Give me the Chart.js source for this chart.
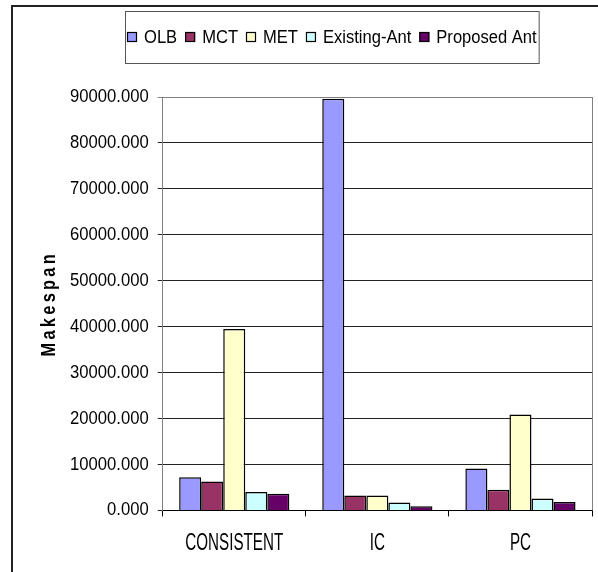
<!DOCTYPE html>
<html>
<head>
<meta charset="utf-8">
<script src="https://cdn.jsdelivr.net/npm/chart.js@4.4.1/dist/chart.umd.min.js"></script>
<style>
  html, body { margin: 0; padding: 0; background: #fff; }
  #wrap { width: 598px; height: 572px; position: relative; }
</style>
</head>
<body>
<div id="wrap"><canvas id="c" width="598" height="572"></canvas></div>
<script>
const categories = ['CONSISTENT', 'IC', 'PC'];
const seriesNames = ['OLB', 'MCT', 'MET', 'Existing-Ant', 'Proposed Ant'];
const olb = [7240, 89600, 9130];
const mct = [6300, 3260, 4490];
const met = [39500, 3260, 20870];
const existingAnt = [3980, 1740, 2610];
const proposedAnt = [3630, 930, 1810];
const yTicks = [0, 10000, 20000, 30000, 40000, 50000, 60000, 70000, 80000, 90000];
const yTitle = 'Makespan';

const colors = ['#9999FF', '#993366', '#FFFFCC', '#CCFFFF', '#660066'];
const seriesValues = [olb, mct, met, existingAnt, proposedAnt];

// Horizontally condensed faces: "SqueezeNN" tag = Liberation Sans drawn at NN% width
const squeezed = pct => 'Squeeze' + pct + ", 'Liberation Sans', Arial, sans-serif";

const canvas = document.getElementById('c');
const c2d = canvas.getContext('2d');
const origFill = c2d.fillText.bind(c2d);
const origMeasure = c2d.measureText.bind(c2d);
function ratioOf(font) {
  const m = /Squeeze(\d+)/.exec(String(font));
  return m ? parseInt(m[1], 10) / 100 : 1;
}
c2d.fillText = function(t, x, y, maxW) {
  const r = ratioOf(this.font);
  if (r !== 1) {
    const w = origMeasure(t).width * r;
    return origFill(t, x, y, maxW !== undefined ? Math.min(maxW, w) : w);
  }
  return maxW !== undefined ? origFill(t, x, y, maxW) : origFill(t, x, y);
};
c2d.measureText = function(t) {
  const m = origMeasure(t);
  const r = ratioOf(this.font);
  if (r !== 1) {
    return {
      width: m.width * r,
      actualBoundingBoxAscent: m.actualBoundingBoxAscent,
      actualBoundingBoxDescent: m.actualBoundingBoxDescent,
      actualBoundingBoxLeft: m.actualBoundingBoxLeft * r,
      actualBoundingBoxRight: m.actualBoundingBoxRight * r
    };
  }
  return m;
};

// Outer frame, plot-area border and custom boxed legend
const framePlugin = {
  id: 'frame',
  beforeDraw(chart) {
    const ctx = chart.ctx;
    ctx.save();
    ctx.strokeStyle = '#222';
    ctx.lineWidth = 2;
    ctx.strokeRect(12, 6, chart.width + 10, chart.height + 10);
    ctx.restore();
  },
  afterDraw(chart) {
    const ctx = chart.ctx;
    const a = chart.chartArea;
    ctx.save();
    ctx.strokeStyle = '#808080';
    ctx.lineWidth = 1;
    ctx.beginPath();
    ctx.moveTo(Math.round(a.right) + 0.5, a.top);
    ctx.lineTo(Math.round(a.right) + 0.5, a.bottom);
    ctx.stroke();

    // legend
    ctx.font = '18px ' + squeezed(92);
    ctx.textBaseline = 'middle';
    ctx.textAlign = 'left';
    const boxW = 10, gap1 = 7, gap2 = 8;
    const items = chart.data.datasets.map(d => ({label: d.label, color: d.backgroundColor, w: ctx.measureText(d.label).width}));
    let total = 0;
    items.forEach((it, i) => { total += boxW + gap1 + it.w + (i < items.length - 1 ? gap2 : 0); });
    const legLeft = 125, legTop = 11, legBottom = 63;
    const startX = legLeft + 2;
    const legRight = startX + total + 2;
    const cy = (legTop + legBottom) / 2;
    ctx.strokeStyle = '#555';
    ctx.lineWidth = 1;
    ctx.strokeRect(legLeft + 0.5, legTop + 0.5, legRight - legLeft, legBottom - legTop);
    let x = startX;
    items.forEach(it => {
      ctx.fillStyle = it.color;
      ctx.fillRect(x, cy - 5, boxW, boxW);
      ctx.strokeStyle = '#000';
      ctx.lineWidth = 1.2;
      ctx.strokeRect(x + 0.5, cy - 4.5, boxW - 1, boxW - 1);
      x += boxW + gap1;
      ctx.fillStyle = '#000';
      ctx.fillText(it.label, x, cy + 1);
      x += it.w + gap2;
    });
    ctx.restore();
  }
};

// letter-spaced axis title
const spacingPlugin = {
  id: 'spacing',
  afterLayout(chart) {
    const s = chart.scales.y;
    if (s._spacedWrapped) return;
    const orig = s.drawTitle.bind(s);
    s.drawTitle = function() {
      const ctx = this.ctx;
      ctx.save();
      ctx.letterSpacing = '4px';
      orig();
      ctx.restore();
    };
    s._spacedWrapped = true;
  }
};

new Chart(canvas, {
  type: 'bar',
  data: {
    labels: categories,
    datasets: seriesNames.map((n, i) => ({
      label: n,
      data: seriesValues[i],
      backgroundColor: colors[i],
      borderColor: '#000',
      borderWidth: 1.5,
      categoryPercentage: 0.77,
      barPercentage: 1.0
    }))
  },
  options: {
    responsive: false,
    animation: false,
    devicePixelRatio: 1,
    layout: { padding: { top: 97, left: 33, right: 6, bottom: 2 } },
    plugins: {
      legend: { display: false },
      tooltip: { enabled: false }
    },
    scales: {
      x: {
        grid: { drawOnChartArea: false, color: '#000', tickLength: 6, offset: true },
        border: { color: '#000', width: 1 },
        ticks: { color: '#000', font: { family: squeezed(66), size: 23 }, padding: 13 }
      },
      y: {
        min: 0,
        max: 90000,
        afterBuildTicks(scale) { scale.ticks = yTicks.map(v => ({ value: v })); },
        grid: {
          color: ctx => (ctx.tick && ctx.tick.value === 90000) ? '#808080' : '#222',
          tickLength: 5
        },
        border: { color: '#808080', width: 1 },
        ticks: {
          color: '#000',
          font: { family: squeezed(90), size: 18.5 },
          padding: 9,
          callback: v => Number(v).toFixed(3)
        },
        title: {
          display: true,
          text: yTitle,
          color: '#000',
          font: { family: squeezed(82), size: 20, weight: 'bold' },
          padding: { top: 4, bottom: 0 }
        }
      }
    }
  },
  plugins: [framePlugin, spacingPlugin]
});
</script>
</body>
</html>
